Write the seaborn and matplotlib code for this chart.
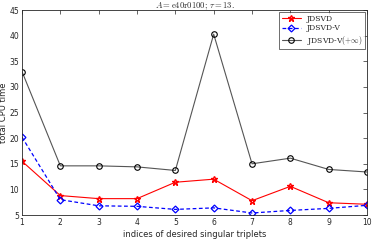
import numpy as np
import matplotlib
matplotlib.use("Agg")
import matplotlib.pyplot as plt
import seaborn as sns
import pandas as pd

idx = [1, 2, 3, 4, 5, 6, 7, 8, 9, 10]
jdsvd = [15.5, 8.8, 8.2, 8.2, 11.4, 12.0, 7.8, 10.6, 7.4, 7.1]
jdsvd_v = [20.2, 8.0, 6.8, 6.7, 6.1, 6.4, 5.4, 5.9, 6.3, 6.9]
jdsvd_vinf = [33.0, 14.6, 14.6, 14.4, 13.7, 40.3, 15.0, 16.1, 13.9, 13.4]

sns.set_style("white")
plt.rcParams["mathtext.fontset"] = "cm"
plt.rcParams["font.family"] = ["DejaVu Sans"]

fig = plt.figure(figsize=(3.73, 2.40), dpi=100)
ax = fig.add_axes([0.059, 0.104, 0.925, 0.854])

df = pd.DataFrame({"idx": idx, "a": jdsvd, "b": jdsvd_v, "c": jdsvd_vinf})

sns.lineplot(data=df, x="idx", y="a", ax=ax, color="red", lw=0.8, marker="*",
             markersize=5, markeredgecolor="red", markerfacecolor="none",
             markeredgewidth=1.0, label="JDSVD")
sns.lineplot(data=df, x="idx", y="b", ax=ax, color="blue", lw=0.9, marker="D",
             markersize=3.5, markeredgecolor="blue", markerfacecolor="none",
             markeredgewidth=0.9, label="JDSVD-V")
ax.lines[-1].set_linestyle((0, (3, 2)))
sns.lineplot(data=df, x="idx", y="c", ax=ax, color="#555555", lw=0.8, marker="o",
             markersize=4, markeredgecolor="black", markerfacecolor="none",
             markeredgewidth=0.8, label=r"JDSVD-V$(+\infty)$")

ax.set_xlim(1, 10)
ax.set_ylim(5, 45)
ax.set_xticks(idx)
ax.set_yticks(range(5, 50, 5))
ax.tick_params(direction="in", length=3, labelsize=5.5, top=True, right=True,
               width=0.5, pad=2, colors="#262626")
for s in ax.spines.values():
    s.set_linewidth(0.6)
    s.set_color("#262626")

ax.set_xlabel("indices of desired singular triplets", fontsize=6, labelpad=2,
              color="#262626")
ax.set_ylabel("total CPU time", fontsize=6, labelpad=1, color="#262626")
ax.set_title(r"$A = \mathrm{e40r0100};\, \tau = 13.$", fontsize=6.2, pad=1.5)

leg = ax.legend(loc="upper right", fontsize=5.5, frameon=True, fancybox=False,
                edgecolor="black", borderpad=0.3, handlelength=2.5,
                labelspacing=0.2, borderaxespad=0.3,
                prop={"family": "serif", "size": 5.5})
leg.get_frame().set_linewidth(0.5)
for t in leg.get_texts():
    t.set_fontfamily("DejaVu Serif")

fig.savefig("out.png", dpi=100)
